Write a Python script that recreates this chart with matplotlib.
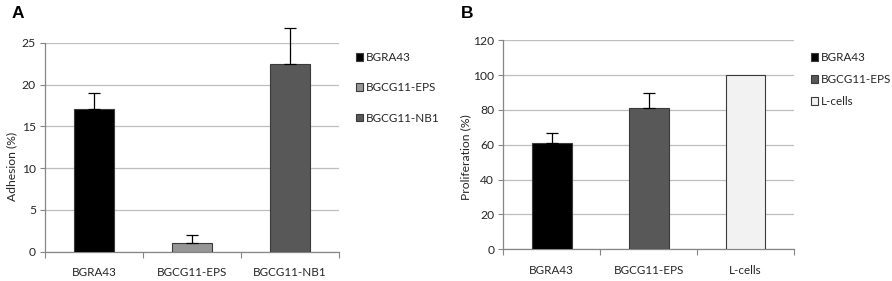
import matplotlib
matplotlib.use("Agg")
import matplotlib.pyplot as plt
from matplotlib.patches import Patch

plt.rcParams['font.family'] = ['Lato', 'DejaVu Sans']

# Panel A data
cats_a = ["BGRA43", "BGCG11-EPS", "BGCG11-NB1"]
vals_a = [17.1, 1.0, 22.5]
errs_a = [1.9, 1.0, 4.2]
colors_a = ["#000000", "#969696", "#585858"]
yticks_a = [0, 5, 10, 15, 20, 25]

# Panel B data
cats_b = ["BGRA43", "BGCG11-EPS", "L-cells"]
vals_b = [60.8, 80.9, 100.0]
errs_b = [6.1, 8.6, 0.0]
colors_b = ["#000000", "#585858", "#f2f2f2"]
yticks_b = [0, 20, 40, 60, 80, 100, 120]

W, H = 892, 281
fig = plt.figure(figsize=(W / 100, H / 100), dpi=100)

FS = 8.4
grid_c = "#bfbfbf"
axis_c = "#868686"
edge_c = "#3a3a3a"
text_c = "#262626"


def panel(rect, cats, vals, errs, colors, yticks, ylabel, ylabel_xy, letter, letter_xy,
          leg_anchor, leg_spacing):
    ax = fig.add_axes(rect)
    x = list(range(len(cats)))
    for xi, v, e, c, lab in zip(x, vals, errs, colors, cats):
        ax.bar(xi, v, width=0.41, color=c, edgecolor=edge_c, linewidth=0.8, zorder=3, label=lab)
        if e > 0:
            ax.errorbar(xi, v, yerr=[[0], [e]], fmt='none', ecolor="#000000", elinewidth=0.9,
                        capsize=4.3, capthick=0.9, zorder=4, clip_on=False)
    ax.set_xlim(-0.5, len(cats) - 0.5)
    ax.set_ylim(yticks[0], yticks[-1])
    ax.set_yticks(yticks)
    ax.set_yticklabels([str(t) for t in yticks], fontsize=FS + 0.3, color=text_c)
    ax.yaxis.grid(True, color=grid_c, linewidth=0.9, zorder=0)
    ax.set_axisbelow(True)
    for s in ["top", "right"]:
        ax.spines[s].set_visible(False)
    ax.spines["left"].set_color(axis_c)
    ax.spines["bottom"].set_color(axis_c)
    ax.spines["left"].set_linewidth(0.9)
    ax.spines["bottom"].set_linewidth(0.9)
    ax.tick_params(axis="y", length=3.5, color=axis_c, pad=3)
    # category boundary ticks on x axis
    ax.set_xticks([i - 0.5 for i in range(len(cats) + 1)])
    ax.set_xticklabels([])
    ax.tick_params(axis="x", which="major", length=4, color=axis_c)
    ax.set_xticks(x, minor=True)
    ax.set_xticklabels(cats, minor=True, fontsize=FS, color=text_c)
    ax.tick_params(axis="x", which="minor", length=0, pad=11)
    ax.set_ylabel(ylabel, fontsize=FS + 0.3, color=text_c)
    ax.yaxis.set_label_coords(*ylabel_xy)
    fig.text(letter_xy[0] / W, 1 - letter_xy[1] / H, letter, fontsize=12.5,
             fontweight="bold", family="Liberation Sans", ha="left", va="center")
    handles = [Patch(facecolor=c, edgecolor=edge_c, linewidth=0.8) for c in colors]
    fig.legend(handles, cats, loc="upper left",
               bbox_to_anchor=(leg_anchor[0] / W, 1 - leg_anchor[1] / H),
               frameon=False, fontsize=FS, handlelength=0.6, handleheight=0.6,
               handletextpad=0.25, labelspacing=leg_spacing, borderpad=0, borderaxespad=0,
               labelcolor=text_c)
    return ax


panel([45 / W, 1 - 251.7 / H, (339 - 45) / W, 209 / H], cats_a, vals_a, errs_a, colors_a,
      yticks_a, "Adhesion (%)", (-0.095, 0.41), "A", (12, 14), (356, 52), 1.65)
panel([503.3 / W, 1 - 249.3 / H, (794 - 503.3) / W, 209 / H], cats_b, vals_b, errs_b, colors_b,
      yticks_b, "Proliferation (%)", (-0.11, 0.44), "B", (461, 14), (811, 52), 0.95)

fig.savefig("out.png", dpi=100)
